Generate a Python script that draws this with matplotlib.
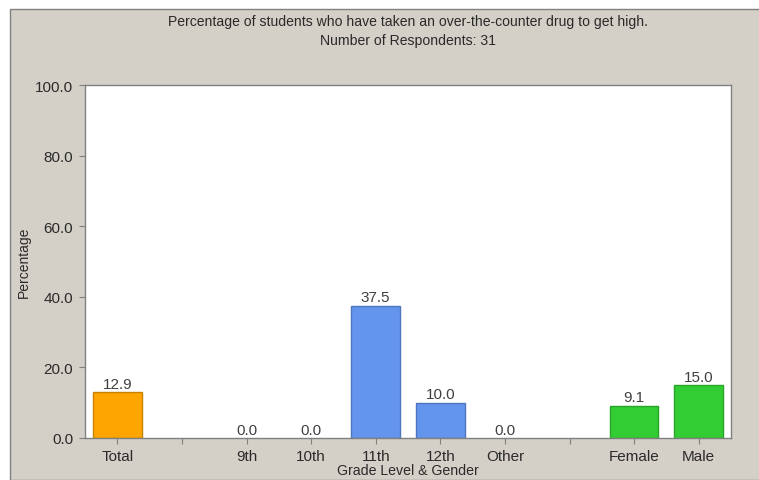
import matplotlib
matplotlib.use("Agg")
import matplotlib.pyplot as plt
from matplotlib.patches import Rectangle

categories = ["Total", "", "9th", "10th", "11th", "12th", "Other", "", "Female", "Male"]
values = [12.9, None, 0.0, 0.0, 37.5, 10.0, 0.0, None, 9.1, 15.0]
groups = ["total", None, "grade", "grade", "grade", "grade", "grade", None, "gender", "gender"]
yticks = [0, 20, 40, 60, 80, 100]

fill = {"total": "#FFA500", "grade": "#6495ED", "gender": "#32CD32"}
edge = {"total": "#C88200", "grade": "#4F74C0", "gender": "#28A428"}

plt.rcParams["font.family"] = ["Liberation Sans", "DejaVu Sans"]
W, H = 759, 481
fig = plt.figure(figsize=(W / 100, H / 100), dpi=100)
fig.patch.set_facecolor("white")

# gray panel behind the chart
panel = Rectangle((10 / W, 0), 1, 1 - 10 / H, transform=fig.transFigure,
                  facecolor="#D4D0C8", edgecolor="#808080", linewidth=1.0, zorder=0)
fig.patches.append(panel)

ax = fig.add_axes([85 / W, 1 - 439 / H, (731 - 85) / W, (439 - 86) / H])
ax.set_facecolor("white")
ax.set_zorder(1)

xs = list(range(len(categories)))
for x, v, g in zip(xs, values, groups):
    if v is None:
        continue
    lw = 1.0 if v > 0 else 0.0
    ax.bar(x, v, width=0.75, color=fill[g], edgecolor=edge[g], linewidth=lw, zorder=2)
    ax.text(x, v + 0.4, f"{v:.1f}", ha="center", va="bottom", fontsize=11,
            color="#404040", zorder=3)

ax.set_xlim(-0.5, len(categories) - 0.5)
ax.set_ylim(0, 100)
ax.set_xticks(xs)
ax.set_xticklabels(categories, fontsize=11, color="#2A2A2A")
ax.set_yticks(yticks)
ax.set_yticklabels([f"{t:.1f}" for t in yticks], fontsize=11, color="#2A2A2A")
ax.tick_params(axis="both", direction="out", length=4, width=0.8, color="#808080")
ax.tick_params(axis="x", pad=4)
ax.tick_params(axis="y", pad=4.5)
for s in ax.spines.values():
    s.set_color("#808080")
    s.set_linewidth(1.0)

ax.set_xlabel("Grade Level & Gender", fontsize=10.2, color="#2A2A2A", labelpad=0)
ax.set_ylabel("Percentage", fontsize=10, color="#2A2A2A", labelpad=3)

fig.text(408 / W, 1 - 22 / H, "Percentage of students who have taken an over-the-counter drug to get high.",
         ha="center", va="center", fontsize=10.1, color="#2A2A2A")
fig.text(408 / W, 1 - 41 / H, "Number of Respondents: 31",
         ha="center", va="center", fontsize=10.1, color="#2A2A2A")

fig.savefig("out.png", dpi=100, facecolor=fig.get_facecolor())
